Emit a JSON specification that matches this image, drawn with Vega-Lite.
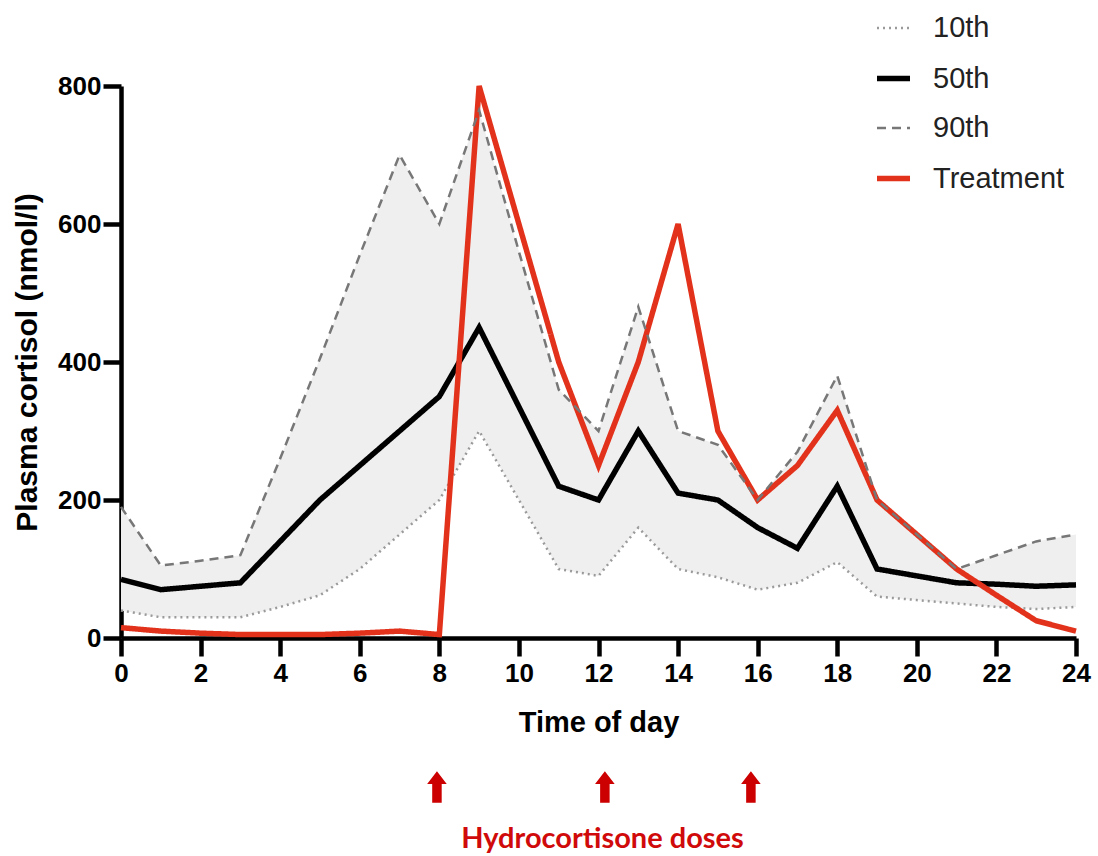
{
  "$schema": "https://vega.github.io/schema/vega-lite/v6.json",
  "width": 955,
  "height": 552,
  "autosize": {"type": "none"},
  "padding": {"left": 121, "top": 86, "right": 22, "bottom": 218},
  "background": "white",
  "view": {"stroke": null},
  "config": {
    "font": "Liberation Sans",
    "axis": {
      "domainColor": "black", "domainWidth": 4.5, "tickColor": "black", "tickWidth": 4.5, "tickSize": 18,
      "labelFont": "Liberation Sans", "labelFontWeight": "bold", "labelFontSize": 26, "labelColor": "black", "labelFlush": false,
      "titleFont": "Liberation Sans", "titleFontWeight": "bold", "titleColor": "black", "grid": false
    }
  },
  "datasets": {
    "curves": [
      {"hour": 0, "series": "10th", "value": 40}, {"hour": 1, "series": "10th", "value": 30}, {"hour": 2, "series": "10th", "value": 30}, {"hour": 3, "series": "10th", "value": 30}, {"hour": 4, "series": "10th", "value": 45}, {"hour": 5, "series": "10th", "value": 62}, {"hour": 6, "series": "10th", "value": 100}, {"hour": 7, "series": "10th", "value": 150}, {"hour": 8, "series": "10th", "value": 200}, {"hour": 9, "series": "10th", "value": 300}, {"hour": 10, "series": "10th", "value": 200}, {"hour": 11, "series": "10th", "value": 100}, {"hour": 12, "series": "10th", "value": 90}, {"hour": 13, "series": "10th", "value": 160}, {"hour": 14, "series": "10th", "value": 100}, {"hour": 15, "series": "10th", "value": 88}, {"hour": 16, "series": "10th", "value": 70}, {"hour": 17, "series": "10th", "value": 80}, {"hour": 18, "series": "10th", "value": 110}, {"hour": 19, "series": "10th", "value": 60}, {"hour": 20, "series": "10th", "value": 55}, {"hour": 21, "series": "10th", "value": 50}, {"hour": 22, "series": "10th", "value": 45}, {"hour": 23, "series": "10th", "value": 42}, {"hour": 24, "series": "10th", "value": 45},
      {"hour": 0, "series": "50th", "value": 85}, {"hour": 1, "series": "50th", "value": 70}, {"hour": 2, "series": "50th", "value": 75}, {"hour": 3, "series": "50th", "value": 80}, {"hour": 4, "series": "50th", "value": 140}, {"hour": 5, "series": "50th", "value": 200}, {"hour": 6, "series": "50th", "value": 250}, {"hour": 7, "series": "50th", "value": 300}, {"hour": 8, "series": "50th", "value": 350}, {"hour": 9, "series": "50th", "value": 450}, {"hour": 10, "series": "50th", "value": 335}, {"hour": 11, "series": "50th", "value": 220}, {"hour": 12, "series": "50th", "value": 200}, {"hour": 13, "series": "50th", "value": 300}, {"hour": 14, "series": "50th", "value": 210}, {"hour": 15, "series": "50th", "value": 200}, {"hour": 16, "series": "50th", "value": 160}, {"hour": 17, "series": "50th", "value": 130}, {"hour": 18, "series": "50th", "value": 220}, {"hour": 19, "series": "50th", "value": 100}, {"hour": 20, "series": "50th", "value": 90}, {"hour": 21, "series": "50th", "value": 80}, {"hour": 22, "series": "50th", "value": 78}, {"hour": 23, "series": "50th", "value": 75}, {"hour": 24, "series": "50th", "value": 77},
      {"hour": 0, "series": "Treatment", "value": 15}, {"hour": 1, "series": "Treatment", "value": 10}, {"hour": 2, "series": "Treatment", "value": 7}, {"hour": 3, "series": "Treatment", "value": 5}, {"hour": 4, "series": "Treatment", "value": 5}, {"hour": 5, "series": "Treatment", "value": 5}, {"hour": 6, "series": "Treatment", "value": 7}, {"hour": 7, "series": "Treatment", "value": 10}, {"hour": 8, "series": "Treatment", "value": 5}, {"hour": 9, "series": "Treatment", "value": 800}, {"hour": 10, "series": "Treatment", "value": 600}, {"hour": 11, "series": "Treatment", "value": 400}, {"hour": 12, "series": "Treatment", "value": 250}, {"hour": 13, "series": "Treatment", "value": 400}, {"hour": 14, "series": "Treatment", "value": 600}, {"hour": 15, "series": "Treatment", "value": 300}, {"hour": 16, "series": "Treatment", "value": 200}, {"hour": 17, "series": "Treatment", "value": 250}, {"hour": 18, "series": "Treatment", "value": 330}, {"hour": 19, "series": "Treatment", "value": 200}, {"hour": 20, "series": "Treatment", "value": 150}, {"hour": 21, "series": "Treatment", "value": 100}, {"hour": 22, "series": "Treatment", "value": 62}, {"hour": 23, "series": "Treatment", "value": 25}, {"hour": 24, "series": "Treatment", "value": 10},
      {"hour": 0, "series": "90th", "value": 190}, {"hour": 1, "series": "90th", "value": 105}, {"hour": 2, "series": "90th", "value": 112}, {"hour": 3, "series": "90th", "value": 120}, {"hour": 4, "series": "90th", "value": 260}, {"hour": 5, "series": "90th", "value": 405}, {"hour": 6, "series": "90th", "value": 555}, {"hour": 7, "series": "90th", "value": 700}, {"hour": 8, "series": "90th", "value": 600}, {"hour": 9, "series": "90th", "value": 765}, {"hour": 10, "series": "90th", "value": 560}, {"hour": 11, "series": "90th", "value": 360}, {"hour": 12, "series": "90th", "value": 300}, {"hour": 13, "series": "90th", "value": 480}, {"hour": 14, "series": "90th", "value": 300}, {"hour": 15, "series": "90th", "value": 280}, {"hour": 16, "series": "90th", "value": 200}, {"hour": 17, "series": "90th", "value": 270}, {"hour": 18, "series": "90th", "value": 380}, {"hour": 19, "series": "90th", "value": 200}, {"hour": 20, "series": "90th", "value": 150}, {"hour": 21, "series": "90th", "value": 100}, {"hour": 22, "series": "90th", "value": 120}, {"hour": 23, "series": "90th", "value": 140}, {"hour": 24, "series": "90th", "value": 150}
    ],
    "doses": [
      {"hour": 7.94, "label": "dose"}, {"hour": 12.16, "label": "dose"}, {"hour": 15.83, "label": "dose"}
    ]
  },
  "layer": [
    {
      "data": {"name": "curves"},
      "transform": [{"pivot": "series", "value": "value", "groupby": ["hour"]}],
      "mark": {"type": "area", "color": "#efefef"},
      "encoding": {
        "x": {"field": "hour", "type": "quantitative", "scale": {"domain": [0, 24], "nice": false},
          "axis": {"values": [0, 2, 4, 6, 8, 10, 12, 14, 16, 18, 20, 22, 24], "title": "Time of day", "titleFontSize": 29, "titlePadding": 22, "labelPadding": 4}},
        "y": {"field": "10th", "type": "quantitative", "scale": {"domain": [0, 800], "nice": false},
          "axis": {"values": [0, 200, 400, 600, 800], "title": "Plasma cortisol (nmol/l)", "titleFontSize": 30, "titlePadding": 15, "labelPadding": 2}},
        "y2": {"field": "90th"}
      }
    },
    {
      "data": {"name": "curves"},
      "mark": {"type": "line", "strokeCap": "butt", "strokeJoin": "miter"},
      "encoding": {
        "x": {"field": "hour", "type": "quantitative"},
        "y": {"field": "value", "type": "quantitative"},
        "color": {"field": "series", "type": "nominal",
          "scale": {"domain": ["10th", "50th", "90th", "Treatment"], "range": ["#9a9a9a", "#000000", "#777777", "#e2321b"]},
          "legend": {"title": null, "orient": "none", "legendX": 753, "legendY": -76, "symbolType": "stroke", "symbolSize": 1089,
            "labelFont": "Liberation Sans", "labelFontSize": 29, "labelColor": "#222222", "labelOffset": 20, "rowPadding": 16}},
        "strokeDash": {"field": "series", "type": "nominal",
          "scale": {"domain": ["10th", "50th", "90th", "Treatment"], "range": [[2, 4], [1, 0], [9, 6], [1, 0]]},
          "legend": {"title": null, "orient": "none", "legendX": 753, "legendY": -76, "symbolType": "stroke", "symbolSize": 1089,
            "labelFont": "Liberation Sans", "labelFontSize": 29, "labelColor": "#222222", "labelOffset": 20, "rowPadding": 16}},
        "strokeWidth": {"field": "series", "type": "nominal",
          "scale": {"type": "ordinal", "domain": ["10th", "50th", "90th", "Treatment"], "range": [2.5, 5.5, 2.5, 5.5]},
          "legend": {"title": null, "orient": "none", "legendX": 753, "legendY": -76, "symbolType": "stroke", "symbolSize": 1089,
            "labelFont": "Liberation Sans", "labelFontSize": 29, "labelColor": "#222222", "labelOffset": 20, "rowPadding": 16}}
      }
    },
    {
      "data": {"name": "doses"},
      "mark": {"type": "point", "shape": "M-0.3,1L-0.3,-0.2L-0.62,-0.2L0,-1L0.62,-0.2L0.3,-0.2L0.3,1Z", "filled": true, "color": "#cc0000", "opacity": 1, "size": 1000},
      "encoding": {
        "x": {"field": "hour", "type": "quantitative"},
        "y": {"datum": -216}
      }
    },
    {
      "data": {"values": [{"hour": 12.1, "text": "Hydrocortisone doses"}]},
      "mark": {"type": "text", "font": "Lato", "fontWeight": "bold", "fontSize": 29, "color": "#d00a0a", "baseline": "middle", "align": "center"},
      "encoding": {
        "x": {"field": "hour", "type": "quantitative"},
        "y": {"datum": -292},
        "text": {"field": "text"}
      }
    }
  ]
}
